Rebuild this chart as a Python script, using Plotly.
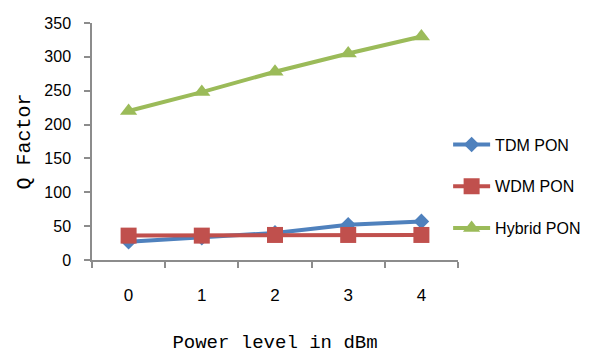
import plotly.graph_objects as go

power_levels = ["0", "1", "2", "3", "4"]
tdm_pon = [27, 33, 40, 52, 57]
wdm_pon = [36, 36, 37, 37, 37]
hybrid_pon = [220, 248, 278, 305, 330]
y_ticks = [0, 50, 100, 150, 200, 250, 300, 350]

fig = go.Figure()
fig.add_trace(go.Scatter(x=power_levels, y=tdm_pon, name="TDM PON", mode="lines+markers",
                         line=dict(color="#4F81BD", width=4),
                         marker=dict(symbol="diamond", size=12, color="#4F81BD"),
                         legendgroup="a"))
fig.add_trace(go.Scatter(x=power_levels, y=wdm_pon, name="WDM PON", mode="lines+markers",
                         line=dict(color="#C0504D", width=4),
                         marker=dict(symbol="square", size=16, color="#C0504D"),
                         legendgroup="b"))
fig.add_trace(go.Scatter(x=power_levels, y=hybrid_pon, name="Hybrid PON", mode="lines+markers",
                         line=dict(color="#9BBB59", width=4),
                         marker=dict(symbol="triangle-up", size=15, color="#9BBB59"),
                         legendgroup="c"))

axis_color = "#8C8C8C"
fig.update_layout(
    width=594, height=354,
    margin=dict(l=92, r=136, t=23, b=94, autoexpand=False),
    paper_bgcolor="white", plot_bgcolor="white",
    font=dict(family="Liberation Sans", size=16, color="#000000"),
    legend=dict(x=0.973, xanchor="left", y=0.31, yanchor="middle",
                font=dict(family="Liberation Sans", size=16),
                tracegroupgap=18, itemwidth=37, bgcolor="rgba(0,0,0,0)"),
    xaxis=dict(type="category", range=[-0.5, 4.5], tickson="boundaries",
               showline=True, linecolor=axis_color, linewidth=1.5,
               ticks="outside", ticklen=6, tickcolor=axis_color, tickwidth=1.5,
               showgrid=False, zeroline=False, ticklabelstandoff=19, automargin=False,
               tickfont=dict(family="Liberation Sans", size=17),
               title=dict(text="Power level in dBm", standoff=33,
                          font=dict(family="Liberation Mono", size=19))),
    yaxis=dict(range=[0, 350], tickvals=y_ticks,
               showline=True, linecolor=axis_color, linewidth=1.5,
               ticks="outside", ticklen=6, tickcolor=axis_color, tickwidth=1.5,
               showgrid=False, zeroline=False, ticklabelstandoff=10, automargin=False,
               tickfont=dict(family="Liberation Sans", size=16),
               title=dict(text="Q Factor", standoff=8,
                          font=dict(family="Liberation Mono", size=20))),
)
fig.write_html("out.html")
